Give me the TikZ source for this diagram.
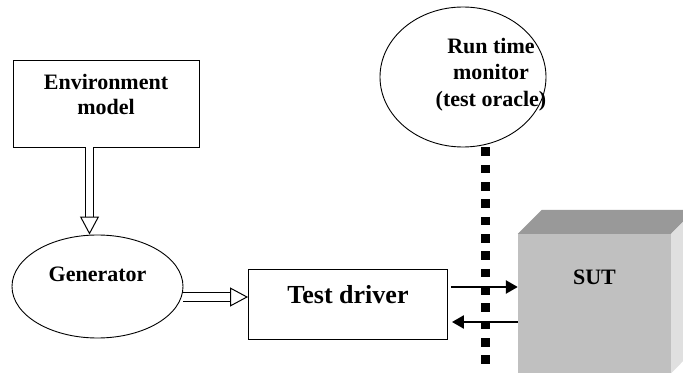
\documentclass[tikz,border=0pt]{standalone}
\usepackage{fontspec}
\setmainfont{Liberation Serif}
\usetikzlibrary{arrows.meta,calc,shapes.geometric}
\definecolor{cubetop}{RGB}{153,153,153}
\definecolor{cubefront}{RGB}{192,192,192}
\definecolor{cubeside}{RGB}{224,224,224}

\begin{document}
\begin{tikzpicture}[x=1pt,y=-1pt,
  every node/.style={inner sep=0pt},
  box/.style={draw,line width=0.9pt,rectangle,align=center},
  oval/.style={draw,line width=0.9pt,ellipse},
  lbl/.style={font=\fontsize{22}{25}\selectfont\bfseries},
  big/.style={font=\fontsize{26}{30}\selectfont\bfseries},
  hollowshaft/.style={line width=1pt,double,double distance=7.5pt,shorten >=16pt},
  hollowhead/.style={line width=1pt,-{Triangle[length=18pt,width=19pt,fill=white]}},
  signal/.style={line width=2.5pt,-{Triangle[length=12pt,width=13pt]}},
  probe/.style={line width=9pt,dash pattern=on 8.5pt off 8.83pt}]
\useasboundingbox (0,0) rectangle (683,374);
\clip (0,0) rectangle (683,374);

% Environment and generator
\node[box,lbl,minimum width=186pt,text height=55pt,text depth=32pt] (env) at (106,103.5) {Environment\\model};
\node[oval,lbl,minimum width=171pt,minimum height=103pt,text height=15pt,text depth=24pt] (gen) at (97.5,286.5) {Generator};

% Test driver
\node[box,big,minimum width=199pt,text height=34pt,text depth=36pt] (td) at (348,304) {Test driver};

% Run time monitor
\node[oval,minimum width=166pt,minimum height=140pt] (monitor) at (463,77) {};
\node[align=center,font=\fontsize{22}{26.7}\selectfont\bfseries] (monitorlbl) at (491,74.5) {Run time\\monitor\\(test oracle)};

% SUT cube
\node[fill=cubefront,lbl,minimum width=153pt,text height=50pt,text depth=89pt] (sut) at (594.5,303.5) {SUT};
\fill[cubetop] (sut.north west) -- ++(24,-24) -- ++(153,0) -- (sut.north east) -- cycle;
\fill[cubeside] (sut.north east) -- ++(24,-24) -- ++(0,139) -- (sut.south east) -- cycle;

% Probe line of the monitor
\coordinate (probetop) at ([xshift=22pt]monitor.south);
\coordinate (probebot) at (probetop |- 0,366);
\draw[probe] (probetop) -- (probebot);

% Hollow arrows
\coordinate (envout) at ([xshift=-16.5pt]env.south);
\coordinate (genin) at ([xshift=-8pt]gen.north);
\draw[hollowshaft] (envout) -- (genin);
\draw[hollowhead] ($(genin)!18pt!(envout)$) -- (genin);

\coordinate (genout) at ([yshift=-10.5pt]gen.east);
\coordinate (tdin) at (genout -| td.west);
\draw[hollowshaft] (genout) -- (tdin);
\draw[hollowhead] ($(tdin)!18pt!(genout)$) -- (tdin);

% Signals between driver and SUT
\coordinate (tdout) at ([yshift=17pt]td.east);
\coordinate (sutin) at (tdout -| sut.west);
\coordinate (tdback) at ([yshift=-18pt]td.east);
\coordinate (sutout) at (tdback -| sut.west);
\draw[signal,shorten <=3pt] (tdout) -- (sutin);
\draw[signal,shorten >=4pt] (sutout) -- (tdback);

\end{tikzpicture}
\end{document}
